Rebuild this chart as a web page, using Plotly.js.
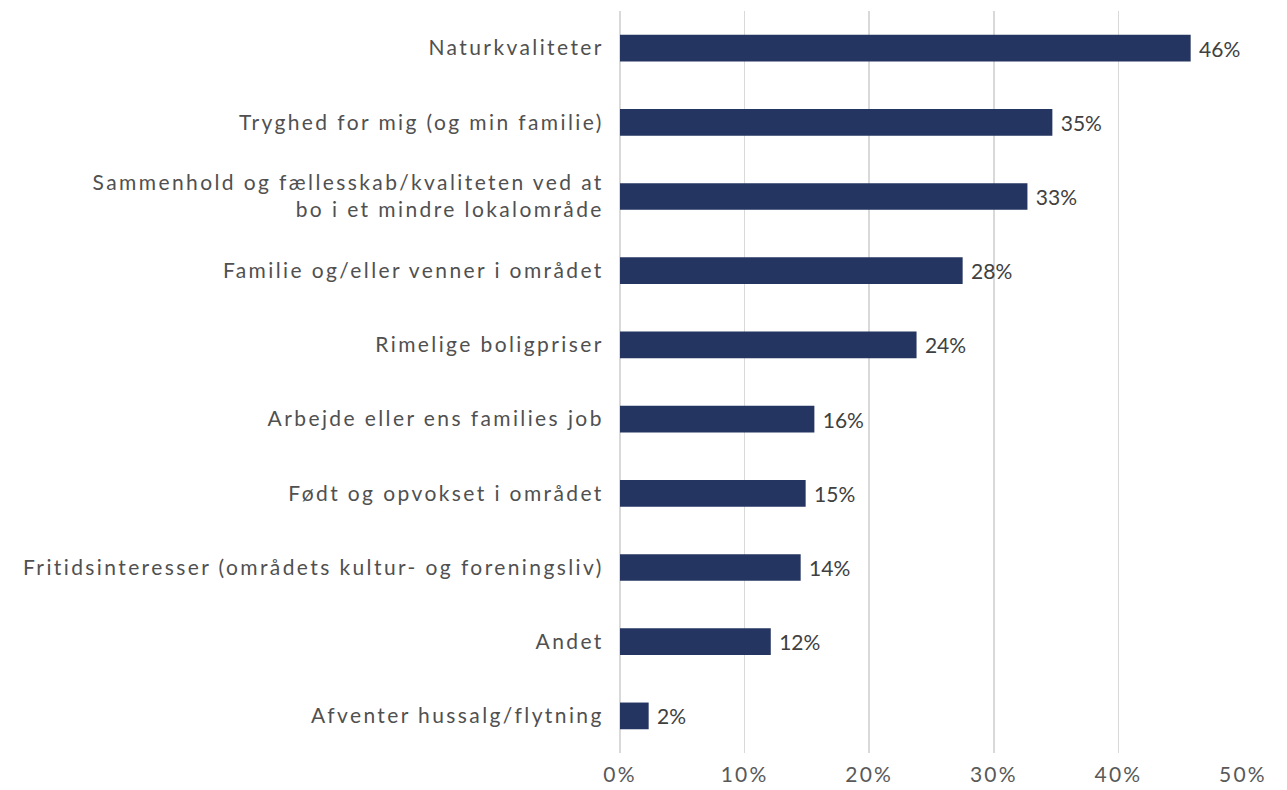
<!DOCTYPE html>
<html><head><meta charset="utf-8">
<script src="https://cdn.plot.ly/plotly-3.0.1.min.js"></script>
<style>
body{margin:0;background:#fff}#chart{width:1287px;height:790px}
#chart .ytick text{letter-spacing:2.4px}
#chart .xtick text, #chart .textpoint text{letter-spacing:2.2px}
</style>
</head><body><div id="chart"></div>
<script>
const categories = [
  "Naturkvaliteter",
  "Tryghed for mig (og min familie)",
  "Sammenhold og fællesskab/kvaliteten ved at<br>bo i et mindre lokalområde",
  "Familie og/eller venner i området",
  "Rimelige boligpriser",
  "Arbejde eller ens families job",
  "Født og opvokset i området",
  "Fritidsinteresser (områdets kultur- og foreningsliv)",
  "Andet",
  "Afventer hussalg/flytning"
];
const values = [45.8, 34.7, 32.7, 27.5, 23.8, 15.6, 14.9, 14.5, 12.1, 2.3];
const labels = ["46%", "35%", "33%", "28%", "24%", "16%", "15%", "14%", "12%", "2%"];
const tickVals = [0, 10, 20, 30, 40, 50];
const tickText = ["0%", "10%", "20%", "30%", "40%", "50%"];

const trace = {
  type: "bar", orientation: "h",
  y: categories, x: values,
  text: labels, texttemplate: " %{text}", textposition: "outside", cliponaxis: false,
  textfont: {family: "Lato, sans-serif", size: 21, color: "#404040"},
  marker: {color: "#253561", line: {width: 0}},
  width: 0.36,
  hoverinfo: "none"
};
const layout = {
  width: 1287, height: 790,
  margin: {l: 620, r: 44, t: 11, b: 37},
  paper_bgcolor: "#fff", plot_bgcolor: "#fff",
  showlegend: false,
  font: {family: "Lato, sans-serif", size: 20, color: "#404040"},
  xaxis: {
    range: [0, 50], tickvals: tickVals, ticktext: tickText,
    showgrid: true, gridcolor: "#d9d9d9", gridwidth: 1.5,
    zeroline: true, zerolinecolor: "#d9d9d9", zerolinewidth: 1.5,
    showline: false, ticks: "", ticklen: 0, ticklabelstandoff: 7,
    tickfont: {size: 21, color: "#595959"}, fixedrange: true
  },
  yaxis: {
    autorange: "reversed", showgrid: false, zeroline: false, showline: false,
    ticks: "outside", ticklen: 11, tickcolor: "rgba(0,0,0,0)",
    tickfont: {size: 21, color: "#505050"}, fixedrange: true
  }
};
Plotly.newPlot("chart", [trace], layout, {displayModeBar: false, staticPlot: true});
</script></body></html>
